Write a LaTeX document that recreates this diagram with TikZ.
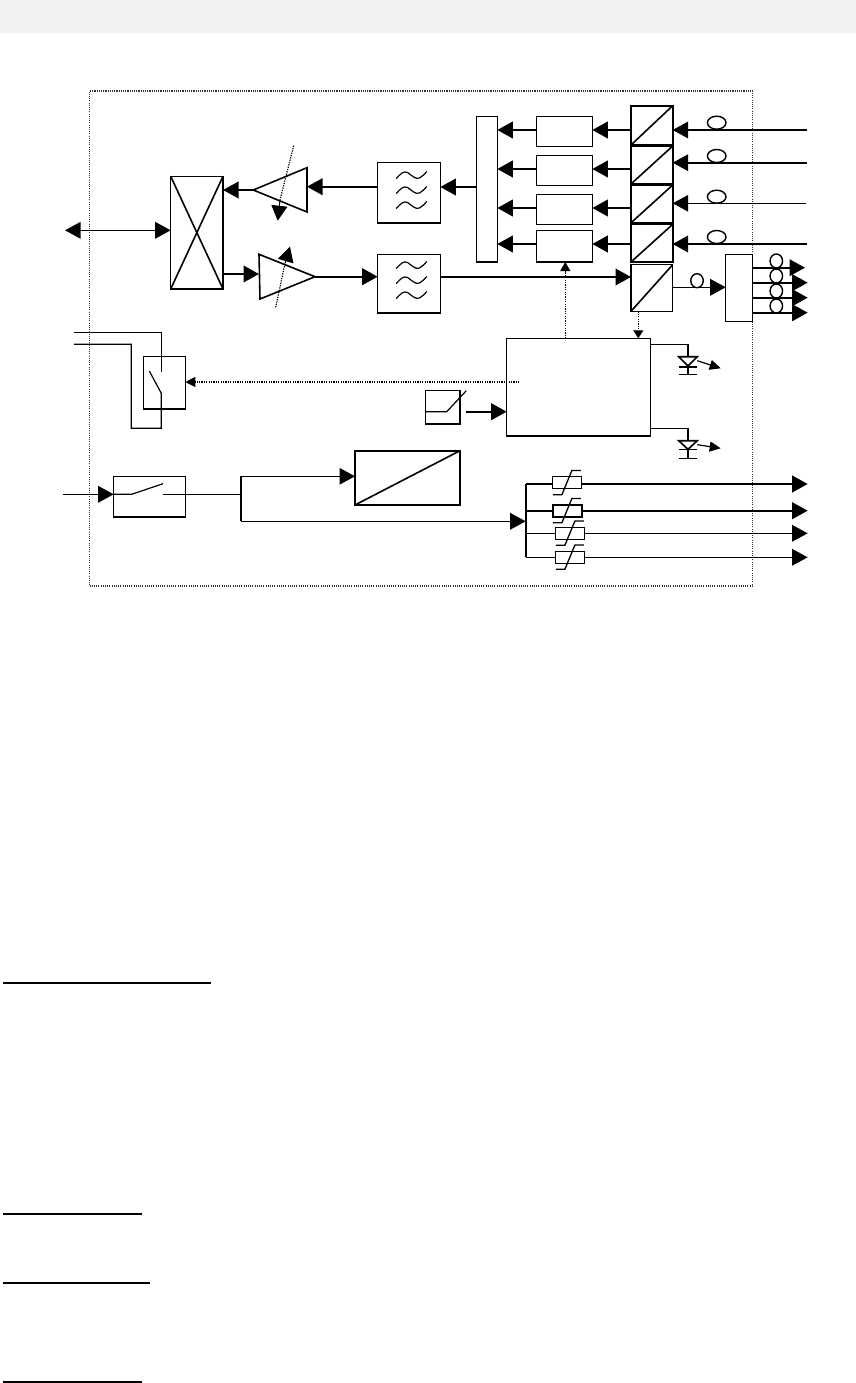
\documentclass[tikz,border=0pt]{standalone}
\usetikzlibrary{arrows.meta,shapes.geometric,calc}
\definecolor{topbar}{HTML}{F2F2F2}
\definecolor{framegrey}{HTML}{333333}
\tikzset{
  x=1pt,y=-1pt,
  blk/.style={draw=black,line width=1.5pt,rectangle,inner sep=0pt,outer sep=0pt},
  thin line/.style={line width=1.2pt,line join=miter},
  thick line/.style={line width=2.2pt},
  mid line/.style={line width=1.6pt},
  big/.style={-{Triangle[length=15.5pt,width=16.5pt]}},
  bigboth/.style={{Triangle[length=15.5pt,width=16.5pt]}-{Triangle[length=15.5pt,width=16.5pt]}},
  dots/.style={line width=1.2pt,dash pattern=on 1.2pt off 1.2pt,black},
  coil/.style={draw=black,line width=1.4pt,ellipse,inner sep=0pt,outer sep=0pt,fill=white},
  tilde/.pic={\draw[line width=1.2pt] (-15.3,3.5) .. controls (-11,-1) and (-8,-4.5) .. (-4,-2.5) .. controls (0,0) and (4,5) .. (8,3) .. controls (11,1.5) and (13,-1) .. (15.3,-3.5);},
  vary/.pic={\draw[line width=1.3pt] (-14.3,12) -- (-5.3,12) -- (4.7,-12.3) -- (13.7,-12.3);}
}
\newcommand{\bx}[6][]{\node[blk,#1,minimum width=#5pt-#3pt,minimum height=#6pt-#4pt] (#2) at ({(#3+#5)/2},{(#4+#6)/2}) {};}
\begin{document}
\begin{tikzpicture}
\useasboundingbox (0,0) rectangle (856,1383);
\fill[topbar] (0,0) rectangle (856,33);
% frame
\node[draw=framegrey,line width=1.1pt,dash pattern=on 1.1pt off 1.1pt,inner sep=0pt,minimum width=663pt,minimum height=495pt] (frame) at (421,338.5) {};

% row / free-end coordinates
\coordinate (r1) at (0,130); \coordinate (r2) at (0,169); \coordinate (r3) at (0,208); \coordinate (r4) at (0,244);
\coordinate (in2y) at (0,162.7); \coordinate (in3y) at (0,203.3);
\coordinate (in1) at (806.7,130); \coordinate (in2) at (806.7,162.7); \coordinate (in3) at (806,203.3); \coordinate (in4) at (806.7,244);

% blocks
\bx{mux}{476.7}{116.7}{497.3}{262}
\bx{fa}{536.3}{116.7}{592.3}{146.3}
\bx{fb}{536.3}{155.3}{592.3}{185.3}
\bx{fc}{536.3}{194.7}{592.3}{224.3}
\bx{fd}{536.3}{230.3}{592.3}{262}
\bx[line width=1.9pt]{oa}{631}{105.7}{672.7}{145}
\bx[line width=1.9pt]{ob}{631}{146}{672.7}{184}
\bx[line width=1.9pt]{oc}{631}{185}{672.7}{222.8}
\bx[line width=1.6pt]{od}{631}{224.3}{672.7}{262}
\bx{oe}{631}{264.7}{672.7}{311.3}
\bx{split}{725.7}{254.3}{752.3}{321.7}
\bx{xbox}{170.7}{176.3}{223}{289}
\bx{filt1}{377.7}{162.7}{440.3}{223}
\bx{filt2}{377.7}{254.3}{440.3}{313}
\bx{ctrl}{506.7}{338.3}{650.3}{436}
\bx{sw1}{143.7}{356.3}{185.3}{409}
\bx{sw2}{113.7}{476.3}{185.3}{517}
\bx{temp}{425.7}{390.7}{460}{424}
\bx[line width=1.8pt]{dc}{355}{450.7}{460}{505}
\bx{pa}{552.7}{476.7}{581.7}{488.7}
\bx[line width=1.9pt]{pb}{552.7}{504.7}{581.7}{516.7}
\bx{pc}{555.7}{527.3}{584.7}{539.3}
\bx{pd}{555.7}{551.3}{584.7}{563.3}

% diagonals
\foreach \n in {oa,ob,oc,od,oe,dc} \draw[mid line] (\n.south west) -- (\n.north east);
\draw[mid line] (xbox.south west) -- (xbox.north east);
\draw[mid line] (xbox.north west) -- (xbox.south east);

% right inputs and coils
\draw[thick line,big] (in1) -- (oa.east |- r1);
\draw[thick line,big] (in2) -- (ob.east |- in2y);
\draw[thin line,big] (in3) -- (oc.east |- in3y);
\draw[thick line,big] (in4) -- (od.east |- r4);
\node[coil,minimum width=18.6pt,minimum height=13pt] (c1) at (716.7,122.7) {};
\node[coil,minimum width=18.6pt,minimum height=13pt] (c2) at (716.7,156) {};
\node[coil,minimum width=18.6pt,minimum height=13pt] (c3) at (716.7,196.7) {};
\node[coil,minimum width=18.6pt,minimum height=13pt] (c4) at (716.7,237) {};

% O/E to framers, framers to mux
\draw[thick line,big] (oa.west |- r1) -- (fa.east |- r1);
\draw[thick line,big] (ob.west |- r2) -- (fb.east |- r2);
\draw[thick line,big] (oc.west |- r3) -- (fc.east |- r3);
\draw[thick line,big] (od.west |- r4) -- (fd.east |- r4);
\draw[thick line,big] (fa.west |- r1) -- (mux.east |- r1);
\draw[thick line,big] (fb.west |- r2) -- (mux.east |- r2);
\draw[thick line,big] (fc.west |- r3) -- (mux.east |- r3);
\draw[thick line,big] (fd.west |- r4) -- (mux.east |- r4);

% mux to filter, filter
\coordinate (y1) at (0,187);
\draw[thick line,big] (mux.west |- y1) -- (filt1.east |- y1);
\foreach \yy in {175,190,205} \path (411.5,\yy) pic {tilde};
\foreach \yy in {265,280,295} \path (411.5,\yy) pic {tilde};

% upper amplifier
\coordinate (a1t) at (253.3,190); \coordinate (a1u) at (307,167.7); \coordinate (a1d) at (307,212);
\draw[mid line,line join=miter] (a1t) -- (a1u) -- (a1d) -- cycle;
\coordinate (a1m) at (307,186.7);
\draw[thick line,big] (filt1.west |- a1m) -- (a1m);
\draw[thick line,big] (a1t) -- (xbox.east |- a1t);
\coordinate (a1s) at (293.7,145.7); \coordinate (a1e) at (280,200); \coordinate (a1h) at (277.7,220.7);
\draw[dots] (a1s) -- (a1e);
\draw[line width=1pt,-{Triangle[length=15pt,width=16pt]}] (a1e) -- (a1h);

% bidirectional port
\coordinate (port) at (65,230.3);
\draw[line width=1.4pt,bigboth] (port) -- (xbox.west |- port);

% lower amplifier
\coordinate (a2t) at (315,276.7); \coordinate (a2u) at (259,254.3); \coordinate (a2d) at (260,299);
\draw[mid line,line join=miter] (a2t) -- (a2u) -- (a2d) -- cycle;
\coordinate (a2m) at (259,274);
\draw[thick line,big] (xbox.east |- a2m) -- (a2m);
\draw[thick line,big] (a2t) -- (filt2.west |- a2t);
\coordinate (a2s) at (275.7,307.3); \coordinate (a2e) at (285,263.3); \coordinate (a2h) at (290,246.7);
\draw[dots] (a2s) -- (a2e);
\draw[line width=1pt,-{Triangle[length=15pt,width=16pt]}] (a2e) -- (a2h);

% filter to E/O
\coordinate (y2) at (0,277);
\draw[thick line,big] (filt2.east |- y2) -- (oe.west |- y2);

% E/O to splitter
\coordinate (y3) at (0,287.3);
\draw[mid line,big] (oe.east |- y3) -- (split.west |- y3);
\node[coil,minimum width=12.5pt,minimum height=14pt] (c5) at (697,280.7) {};

% splitter outputs
\coordinate (o1) at (805,267.7); \coordinate (o2) at (807.7,282.7); \coordinate (o3) at (807.7,297.7); \coordinate (o4) at (807.7,312.7);
\foreach \p in {o1,o2,o3,o4} \draw[thick line,big] (split.east |- \p) -- (\p);
\node[coil,fill=none,minimum width=12.5pt,minimum height=14pt] (c6) at (776.3,261) {};
\node[coil,fill=none,minimum width=12.5pt,minimum height=14pt] (c7) at (776.3,276) {};
\node[coil,fill=none,minimum width=12.5pt,minimum height=14pt] (c8) at (776.3,291) {};
\node[coil,fill=none,minimum width=12.5pt,minimum height=14pt] (c9) at (776.3,306) {};

% dotted control lines
\coordinate (d1) at (565.3,338); \coordinate (d2) at (638.3,338);
\draw[dots,-{Triangle[length=9pt,width=10pt]}] (ctrl.north -| d1) -- (fd.south -| d1);
\draw[dots,-{Triangle[length=8pt,width=10pt]}] (oe.south -| d2) -- (ctrl.north -| d2);
\coordinate (d3) at (519.3,382);
\draw[dots,-{Triangle[length=10pt,width=10pt]}] (d3) -- (sw1.east |- d3);

% temperature sensor
\draw[thin line] (temp.west |- 0,411.7) -- (446.7,411.7) -- (466.3,390.7);
\coordinate (t1) at (466,411.7);
\draw[thick line,big] (t1) -- (ctrl.west |- t1);

% pair lines and switch 1
\coordinate (l1) at (74,332.3); \coordinate (l2) at (74,344.3);
\draw[thin line] (l1) -- (161.3,332.3) -- (161.3,371.7);
\draw[thin line] (l2) -- (131.3,344.3) -- (131.3,428.3) -- (161.3,428.3) -- (161.3,393.3) -- (149.3,371);

% power input and switch 2
\coordinate (pw) at (63.3,494.3);
\draw[thin line,big] (pw) -- (sw2.west |- pw);
\draw[thin line] (sw2.west |- pw) -- (131.7,494.3) -- (163,483.7);
\coordinate (jn) at (240.7,494.3);
\draw[thin line] (163,494.3) -- (jn);
\coordinate (jt) at (240.7,476.3); \coordinate (jb) at (240.7,521.3);
\draw[mid line] (jt) -- (jb);
\draw[thin line,big] (jt) -- (dc.west |- jt);
\coordinate (bus) at (525.7,521.3);
\draw[thin line,big] (jb) -- (bus);

% fused outputs
\coordinate (bt) at (525.7,484); \coordinate (bb) at (525.7,557.3);
\draw[line width=1.9pt] (bt) -- (bb);
\coordinate (e1) at (807.7,484); \coordinate (e2) at (807.7,510.7); \coordinate (e3) at (807.7,533.3); \coordinate (e4) at (807.7,557.3);
\draw[thick line] (bt) -- (pa.west |- bt);
\draw[thick line] (525.7,510.7) -- (pb.west |- e2);
\draw[thin line] (525.7,533.3) -- (pc.west |- e3);
\draw[thin line] (bb) -- (pd.west |- bb);
\draw[thick line,big] (pa.east |- e1) -- (e1);
\draw[thick line,big] (pb.east |- e2) -- (e2);
\draw[thin line,big] (pc.east |- e3) -- (e3);
\draw[thin line,big] (pd.east |- e4) -- (e4);
\foreach \n in {pa,pb,pc,pd} \path (\n.center) pic {vary};

% LEDs
\coordinate (k1) at (688,344.3); \coordinate (k2) at (688,428.3);
\draw[thin line] (ctrl.east |- k1) -- (k1);
\draw[thin line] (ctrl.east |- k2) -- (k2);
\draw[mid line] (k1) -- (688,374.3);
\draw[mid line] (k2) -- (688,458.3);
\draw[mid line,fill=white,line join=miter] (678.7,356.7) -- (697.3,356.7) -- (688,366) -- cycle;
\draw[mid line,fill=white,line join=miter] (678.7,440.7) -- (697.3,440.7) -- (688,449.3) -- cycle;
\draw[line width=1.9pt] (678.7,366.9) -- (697.3,366.9);
\draw[mid line] (678.7,374.3) -- (697.3,374.3);
\draw[mid line] (678.7,449.3) -- (697.3,449.3);
\draw[mid line] (678.7,458.3) -- (697.3,458.3);
\coordinate (g1) at (697.3,360.7); \coordinate (g1e) at (720.7,368.3);
\coordinate (g2) at (697.3,444.7); \coordinate (g2e) at (720.7,448.3);
\draw[line width=1.2pt,-{Triangle[length=11pt,width=10pt]}] (g1) -- (g1e);
\draw[line width=1.2pt,-{Triangle[length=11pt,width=10pt]}] (g2) -- (g2e);

% rules beneath
\draw[line width=2pt] (3,983) -- (211,983);
\draw[line width=2pt] (3,1214) -- (142,1214);
\draw[line width=2pt] (3,1283) -- (150,1283);
\draw[line width=2pt] (3,1382) -- (142,1382);
\end{tikzpicture}
\end{document}
